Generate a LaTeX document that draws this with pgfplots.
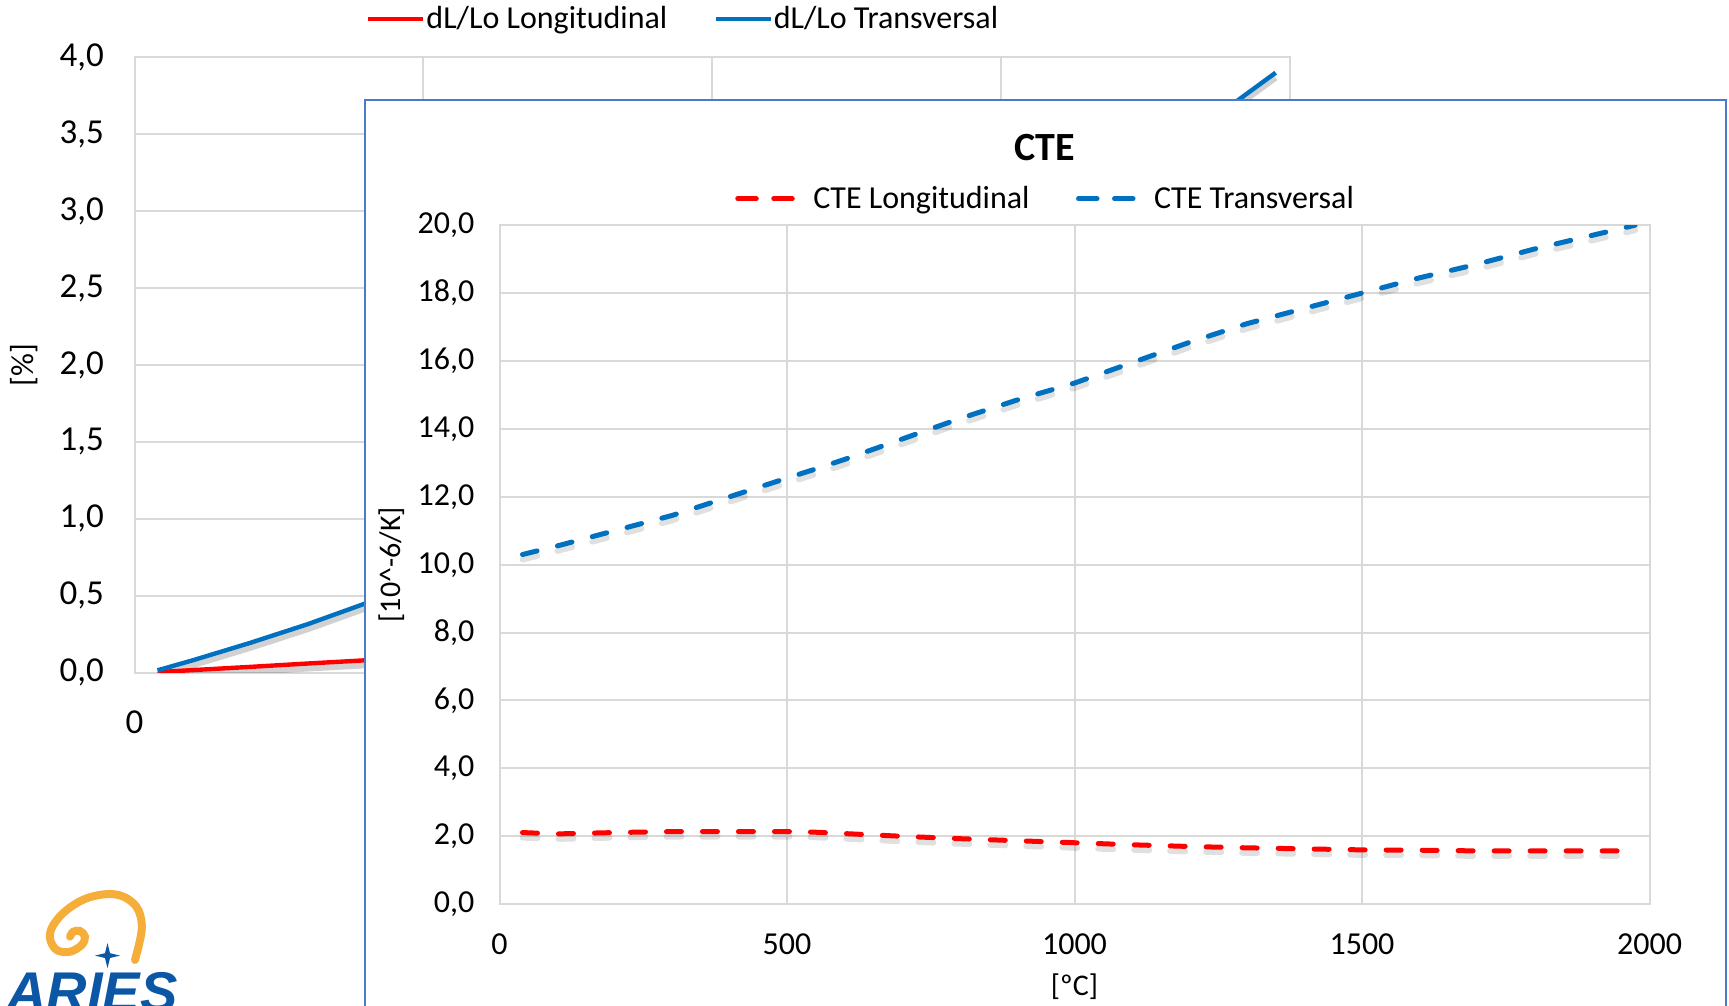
\documentclass[border=0pt]{standalone}
\usepackage{fontspec}
\setmainfont{Carlito}
\newfontfamily\logofont{Liberation Sans}
\usepackage{pgfplots}
\usepackage{pgfplotstable}
\pgfplotsset{compat=1.18}

\definecolor{gridgray}{HTML}{D9D9D9}
\definecolor{xlblue}{HTML}{0070C0}
\definecolor{xlred}{HTML}{FF0000}
\definecolor{frameblue}{HTML}{4A7BC8}
\definecolor{logoorange}{HTML}{F5AE3A}
\definecolor{logoblue}{HTML}{0B56A5}

% mean coefficient of thermal expansion [10^-6/K]
\pgfplotstableread{
T     long  trans
40    2.11  10.30
100   2.07  10.55
200   2.11  11.00
300   2.14  11.45
400   2.14  12.00
500   2.14  12.55
550   2.12  12.82
600   2.08  13.10
650   2.04  13.40
700   2.00  13.70
800   1.93  14.30
900   1.87  14.85
1000  1.81  15.35
1100  1.75  15.95
1200  1.70  16.55
1300  1.66  17.10
1400  1.63  17.55
1500  1.60  18.00
1600  1.59  18.45
1700  1.57  18.85
1800  1.57  19.30
1900  1.57  19.70
1975  1.57  20.00
}\ctedata

% relative elongation dL/Lo [%]
\pgfplotstableread{
T     long   trans
40    0.003  0.015
100   0.016  0.079
200   0.037  0.193
300   0.059  0.315
400   0.080  0.450
500   0.102  0.596
550   0.111  0.673
600   0.120  0.753
650   0.128  0.838
700   0.135  0.925
800   0.150  1.108
900   0.164  1.299
1000  0.176  1.497
1100  0.188  1.715
1200  0.200  1.945
1300  0.212  2.180
1400  0.224  2.413
1500  0.236  2.655
1600  0.250  2.906
1700  0.263  3.157
1800  0.279  3.426
1900  0.294  3.694
1975  0.306  3.900
}\dldata

\pgfplotsset{
  excel/.style={
    scale only axis, anchor=south west,
    grid=major, major grid style={draw=gridgray, line width=1pt},
    axis line style={draw=gridgray, line width=1pt},
    major tick length=0pt,
    scaled ticks=false,
    xmin=0, xmax=2000, xtick={0,500,1000,1500,2000},
    /pgf/number format/assume math mode=true,
    xticklabel style={/pgf/number format/1000 sep={}},
    yticklabel style={/pgf/number format/fixed, /pgf/number format/fixed zerofill,
      /pgf/number format/precision=1, /pgf/number format/use comma},
    legend columns=-1,
    legend style={draw=none, fill=none, anchor=center},
  },
  shadow/.style={forget plot, black, opacity=0.18, line width=3pt, yshift=-2.5pt},
}

\begin{document}
\begin{tikzpicture}
\useasboundingbox (0,0) rectangle (864.5pt,503pt);
\clip (0,0) rectangle (864.5pt,503pt);

% elongation chart
\begin{axis}[excel, at={(67.25pt,166.7pt)}, width=577.8pt, height=307.65pt,
  ymin=0, ymax=4, ytick={0,0.5,1,1.5,2,2.5,3,3.5,4},
  xticklabels={0,,,,},
  ticklabel style={font=\fontsize{17.5}{21}\selectfont},
  yticklabel style={xshift=-11.8pt}, xticklabel style={yshift=-15.5pt},
  ylabel={[\%]},
  ylabel style={at={(axis description cs:-0.0954,0.5)}, anchor=center, font=\fontsize{16}{19}\selectfont},
  legend style={at={(axis description cs:0.4743,1.0627)}, font=\fontsize{16}{19}\selectfont,
    nodes={inner sep=0.5pt}, /tikz/every even column/.append style={column sep=22.5pt}},
  legend image code/.code={\draw[#1] (0pt,0pt) -- (27.5pt,0pt);},
]
\addplot[shadow] table[x=T, y=long]{\dldata};
\addplot[shadow] table[x=T, y=trans]{\dldata};
\addplot[xlred, line width=2.2pt] table[x=T, y=long]{\dldata};
\addlegendentry{dL/Lo Longitudinal}
\addplot[xlblue, line width=2.2pt] table[x=T, y=trans]{\dldata};
\addlegendentry{dL/Lo Transversal}
\end{axis}

% frame of the CTE chart
\fill[white] (182.5pt,-10pt) rectangle (862.85pt,452.85pt);
\draw[frameblue, line width=0.8pt] (182.5pt,-10pt) -- (182.5pt,452.85pt) -- (862.85pt,452.85pt) -- (862.85pt,-10pt);

% CTE chart
\begin{axis}[excel, at={(249.75pt,50.9pt)}, width=575pt, height=339.5pt,
  ymin=0, ymax=20, ytick={0,2,...,20},
  ticklabel style={font=\fontsize{16}{19}\selectfont},
  yticklabel style={xshift=-9.1pt}, xticklabel style={yshift=-11.1pt},
  title={CTE},
  title style={at={(axis description cs:0.474,1.096)}, anchor=center, font=\bfseries\fontsize{20}{24}\selectfont},
  xlabel={[ºC]},
  xlabel style={at={(axis description cs:0.5,-0.122)}, anchor=center, font=\fontsize{15}{18}\selectfont},
  ylabel={[10\textasciicircum-6/K]},
  ylabel style={at={(axis description cs:-0.0939,0.5)}, anchor=center, font=\fontsize{15}{18}\selectfont},
  legend style={at={(axis description cs:0.4757,1.039)}, font=\fontsize{16}{19}\selectfont,
    /tikz/every even column/.append style={column sep=21.2pt}},
  legend image code/.code={\draw[#1, dash pattern=on 8pt off 10pt] (1.25pt,0pt) -- (27.45pt,0pt);
    \path (0pt,0pt) -- (34.5pt,0pt);},
  every axis plot/.append style={line cap=round},
]
\addplot[shadow, dash pattern=on 7.5pt off 10.5pt, opacity=0.12] table[x=T, y=long]{\ctedata};
\addplot[shadow, dash pattern=on 7.5pt off 10.5pt, opacity=0.12] table[x=T, y=trans]{\ctedata};
\addplot[xlred, line width=2.5pt, dash pattern=on 7.5pt off 10.5pt] table[x=T, y=long]{\ctedata};
\addlegendentry{CTE Longitudinal}
\addplot[xlblue, line width=2.5pt, dash pattern=on 7.5pt off 10.5pt] table[x=T, y=trans]{\ctedata};
\addlegendentry{CTE Transversal}
\end{axis}

% logo
\draw[logoorange, line width=4pt, line cap=round] plot[smooth, tension=0.6] coordinates {
  (67.5pt,23pt) (70.85pt,38pt) (69.15pt,48pt) (63.35pt,53.85pt) (55pt,56pt)
  (43.35pt,53.85pt) (33.35pt,48pt) (26.65pt,40.5pt) (25pt,33.85pt) (28.35pt,28pt)
  (35pt,27.15pt) (40.85pt,30.5pt) (42.5pt,34.65pt) (40pt,37.5pt) (36.65pt,37.15pt) (35pt,34.65pt)};
\fill[logoblue] (53.75pt,31.5pt) -- (55pt,26.4pt) -- (60pt,25.2pt) -- (55pt,24pt)
  -- (53.75pt,18.9pt) -- (52.5pt,24pt) -- (47.5pt,25.2pt) -- (52.5pt,26.4pt) -- cycle;
\node[anchor=base west, inner sep=0pt, text=logoblue,
  font=\logofont\bfseries\itshape\fontsize{28}{30}\selectfont] at (3pt,-3pt) {ARIES};
\end{tikzpicture}
\end{document}
